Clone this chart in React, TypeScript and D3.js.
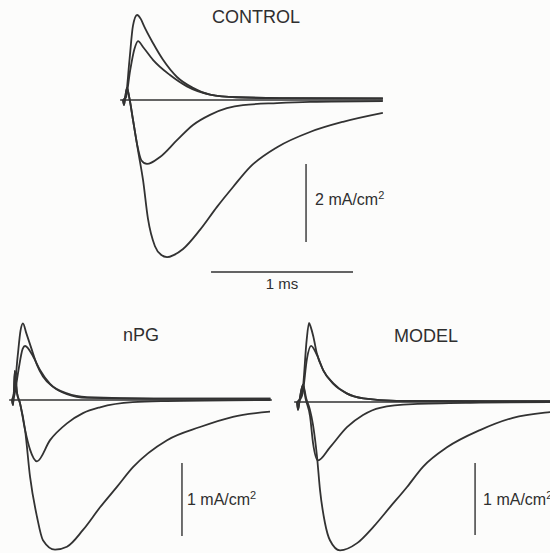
import React from "react";
import * as d3 from "d3";

// Membrane current traces: time in ms, current in mA/cm^2 (outward positive)
type Pt = [number, number];

// ---- CONTROL ----
const controlOutLarge: Pt[] = [[0,0],[0.02,0.1],[0.045,1.0],[0.07,1.9],[0.099,2.18],[0.125,2.08],[0.15,1.88],[0.211,1.46],[0.282,1.03],[0.38,0.59],[0.493,0.31],[0.613,0.14],[0.8,0.07],[1.1,0.05],[1.83,0.04]];
const controlOutSmall: Pt[] = [[0,0],[0.02,0.06],[0.05,0.75],[0.08,1.3],[0.106,1.51],[0.141,1.36],[0.211,1.03],[0.331,0.64],[0.45,0.35],[0.613,0.14],[0.8,0.07],[1.1,0.05],[1.83,0.04]];
const controlInSmall: Pt[] = [[0,0],[0.007,-0.13],[0.015,0.05],[0.028,0.31],[0.045,0.05],[0.07,-0.5],[0.1,-1.15],[0.13,-1.55],[0.169,-1.64],[0.261,-1.46],[0.38,-1.03],[0.493,-0.64],[0.613,-0.38],[0.732,-0.21],[0.845,-0.13],[1.085,-0.08],[1.317,-0.05],[1.83,-0.03]];
const controlInLarge: Pt[] = [[0,0],[0.007,-0.13],[0.015,0.05],[0.028,0.31],[0.045,0.05],[0.07,-0.5],[0.106,-1.3],[0.141,-2.05],[0.176,-3.05],[0.225,-3.75],[0.268,-3.97],[0.31,-4.03],[0.36,-3.97],[0.423,-3.82],[0.542,-3.33],[0.662,-2.74],[0.775,-2.23],[0.894,-1.72],[1.085,-1.21],[1.317,-0.82],[1.549,-0.56],[1.83,-0.33]];

// ---- nPG ----
const npgOutLarge: Pt[] = [[0,0],[0.015,0.1],[0.04,0.6],[0.06,0.95],[0.077,1.05],[0.1,0.92],[0.141,0.68],[0.176,0.48],[0.218,0.32],[0.289,0.18],[0.387,0.08],[0.528,0.03],[1.0,0.02],[1.82,0.02]];
const npgOutSmall: Pt[] = [[0,0],[0.015,0.05],[0.045,0.4],[0.075,0.7],[0.092,0.74],[0.148,0.6],[0.197,0.41],[0.268,0.22],[0.387,0.09],[0.528,0.04],[1.0,0.02],[1.82,0.02]];
const npgInSmall: Pt[] = [[0,0],[0.007,-0.07],[0.013,0.1],[0.02,0.4],[0.035,0.1],[0.056,-0.04],[0.092,-0.41],[0.127,-0.68],[0.176,-0.84],[0.268,-0.55],[0.387,-0.32],[0.5,-0.18],[0.62,-0.1],[0.85,-0.03],[1.09,-0.015],[1.82,0]];
const npgInLarge: Pt[] = [[0,0],[0.007,-0.07],[0.013,0.1],[0.02,0.4],[0.035,0.1],[0.056,-0.04],[0.092,-0.41],[0.127,-1.05],[0.176,-1.6],[0.218,-1.92],[0.303,-2.05],[0.387,-2.01],[0.5,-1.78],[0.62,-1.47],[0.739,-1.19],[0.852,-0.92],[1.092,-0.55],[1.324,-0.37],[1.556,-0.23],[1.817,-0.16]];

// ---- MODEL ----
const modelOutLarge: Pt[] = [[0,0],[0.02,0.04],[0.04,0.17],[0.068,0.86],[0.085,1.1],[0.097,1.04],[0.115,0.91],[0.139,0.68],[0.185,0.44],[0.256,0.26],[0.35,0.12],[0.467,0.05],[0.7,0.015],[1.83,0.01]];
const modelOutSmall: Pt[] = [[0,0],[0.02,0.03],[0.04,0.12],[0.07,0.6],[0.099,0.78],[0.139,0.66],[0.185,0.44],[0.256,0.25],[0.35,0.12],[0.467,0.05],[0.7,0.015],[1.83,0.01]];
const modelInSmall: Pt[] = [[0,0],[0.007,-0.11],[0.02,0.05],[0.042,0.24],[0.06,0.05],[0.092,-0.2],[0.113,-0.57],[0.148,-0.81],[0.232,-0.63],[0.352,-0.35],[0.465,-0.18],[0.585,-0.08],[0.817,-0.03],[1.29,-0.01],[1.83,0]];
const modelInLarge: Pt[] = [[0,0],[0.007,-0.11],[0.02,0.05],[0.042,0.24],[0.065,0.05],[0.09,-0.1],[0.113,-0.32],[0.141,-0.76],[0.162,-1.22],[0.197,-1.68],[0.232,-1.92],[0.303,-2.06],[0.423,-1.96],[0.535,-1.74],[0.655,-1.46],[0.775,-1.18],[0.887,-0.9],[1.056,-0.63],[1.289,-0.39],[1.521,-0.22],[1.782,-0.14],[1.83,-0.13]];

// Trace span (ms) and scale-bar sizes
const traceEnd = 1.83;
const timeBarMs = 1;
const controlCurrentBar = 2;
const otherCurrentBar = 1;

const INK = "#323232";
const TEXT = "#2f2f2f";
const FONT = "'Liberation Sans', Arial, Helvetica, sans-serif";

interface PanelProps {
  title: string;
  titleX: number;
  titleY: number;
  traces: Pt[][];
  x0: number;
  y0: number;
  pxPerMs: number;
  pxPerUnit: number;
  barT: number;
  barTop: number;
  barSize: number;
  barLabel: string;
  labelGap: number;
  labelY: number;
  timeBar?: { t0: number; level: number; labelY: number };
}

function Panel(p: PanelProps) {
  const x = d3.scaleLinear().domain([0, 1]).range([p.x0, p.x0 + p.pxPerMs]);
  const y = d3.scaleLinear().domain([0, 1]).range([p.y0, p.y0 - p.pxPerUnit]);
  const line = d3
    .line<Pt>()
    .x((d) => x(d[0]))
    .y((d) => y(d[1]))
    .curve(d3.curveMonotoneX);
  const bx = x(p.barT);
  return (
    <g>
      <text x={p.titleX} y={p.titleY} textAnchor="middle" fontFamily={FONT} fontSize={18} fill={TEXT}>
        {p.title}
      </text>
      <line x1={x(-0.02)} x2={x(traceEnd)} y1={y(0)} y2={y(0)} stroke={INK} strokeWidth={1.6} />
      {p.traces.map((tr, i) => (
        <path key={i} d={line(tr) ?? ""} fill="none" stroke={INK} strokeWidth={1.8} strokeLinejoin="round" />
      ))}
      <line x1={bx} x2={bx} y1={y(p.barTop)} y2={y(p.barTop - p.barSize)} stroke={INK} strokeWidth={1.4} />
      <text x={bx + p.labelGap} y={p.labelY} fontFamily={FONT} fontSize={16} fill={TEXT}>
        {p.barLabel}
        <tspan dy={-6} fontSize={11}>2</tspan>
      </text>
      {p.timeBar && (
        <g>
          <line
            x1={x(p.timeBar.t0)}
            x2={x(p.timeBar.t0 + timeBarMs)}
            y1={y(p.timeBar.level)}
            y2={y(p.timeBar.level)}
            stroke={INK}
            strokeWidth={1.4}
          />
          <text
            x={x(p.timeBar.t0 + timeBarMs / 2)}
            y={p.timeBar.labelY}
            textAnchor="middle"
            fontFamily={FONT}
            fontSize={15}
            fill={TEXT}
          >
            1 ms
          </text>
        </g>
      )}
    </g>
  );
}

export default function App() {
  return (
    <svg
      width={550}
      height={553}
      viewBox="0 0 550 553"
      style={{ position: "absolute", left: 0, top: 0, display: "block" }}
    >
      <rect width={550} height={553} fill="#fcfcfb" />
      <Panel
        title="CONTROL"
        titleX={256}
        titleY={23}
        traces={[controlOutLarge, controlOutSmall, controlInSmall, controlInLarge]}
        x0={123}
        y0={100}
        pxPerMs={142}
        pxPerUnit={39}
        barT={1.289}
        barTop={-1.64}
        barSize={controlCurrentBar}
        barLabel="2 mA/cm"
        labelGap={9}
        labelY={205}
        timeBar={{ t0: 0.62, level: -4.41, labelY: 289 }}
      />
      <Panel
        title="nPG"
        titleX={141}
        titleY={341}
        traces={[npgOutLarge, npgOutSmall, npgInSmall, npgInLarge]}
        x0={12}
        y0={400}
        pxPerMs={142}
        pxPerUnit={73}
        barT={1.197}
        barTop={-0.863}
        barSize={otherCurrentBar}
        barLabel="1 mA/cm"
        labelGap={5}
        labelY={505}
      />
      <Panel
        title="MODEL"
        titleX={426}
        titleY={342}
        traces={[modelOutLarge, modelOutSmall, modelInSmall, modelInLarge]}
        x0={297}
        y0={402}
        pxPerMs={142}
        pxPerUnit={72}
        barT={1.254}
        barTop={-0.847}
        barSize={otherCurrentBar}
        barLabel="1 mA/cm"
        labelGap={8}
        labelY={505}
      />
    </svg>
  );
}
